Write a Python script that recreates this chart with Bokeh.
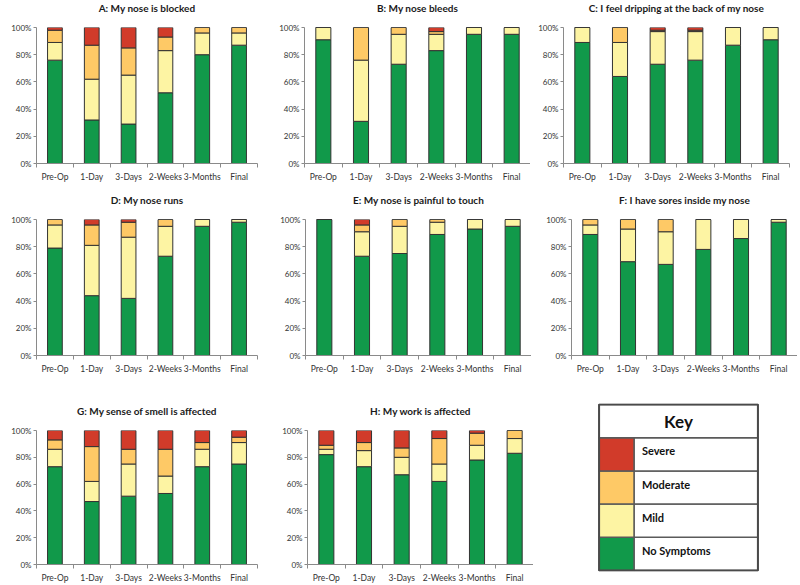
from bokeh.plotting import figure
from bokeh.layouts import column, row
from bokeh.models import FixedTicker, PrintfTickFormatter, ColumnDataSource, Range1d
from bokeh.embed import file_html
from bokeh.resources import INLINE
from bokeh.core.properties import value

categories = ["Pre-Op", "1-Day", "3-Days", "2-Weeks", "3-Months", "Final"]
severity = ["No Symptoms", "Mild", "Moderate", "Severe"]
colors = ["#11994A", "#FDF4A3", "#FEC966", "#D13B2A"]
y_ticks = [0, 20, 40, 60, 80, 100]

# A: My nose is blocked
A_none = [76, 32, 29, 52, 80, 87]
A_mild = [13, 30, 36, 31, 16, 9]
A_moderate = [9, 25, 20, 10, 4, 4]
A_severe = [2, 13, 15, 7, 0, 0]
# B: My nose bleeds
B_none = [91, 31, 73, 83, 95, 95]
B_mild = [9, 45, 22, 12, 5, 5]
B_moderate = [0, 24, 5, 2, 0, 0]
B_severe = [0, 0, 0, 3, 0, 0]
# C: I feel dripping at the back of my nose
C_none = [89, 64, 73, 76, 87, 91]
C_mild = [11, 25, 24, 21, 13, 9]
C_moderate = [0, 11, 1, 1, 0, 0]
C_severe = [0, 0, 2, 2, 0, 0]
# D: My nose runs
D_none = [79, 44, 42, 73, 95, 98]
D_mild = [17, 37, 45, 22, 5, 2]
D_moderate = [4, 15, 11, 5, 0, 0]
D_severe = [0, 4, 2, 0, 0, 0]
# E: My nose is painful to touch
E_none = [100, 73, 75, 89, 93, 95]
E_mild = [0, 18, 20, 9, 7, 5]
E_moderate = [0, 5, 5, 2, 0, 0]
E_severe = [0, 4, 0, 0, 0, 0]
# F: I have sores inside my nose
F_none = [89, 69, 67, 78, 86, 98]
F_mild = [7, 24, 24, 22, 14, 2]
F_moderate = [4, 7, 9, 0, 0, 0]
F_severe = [0, 0, 0, 0, 0, 0]
# G: My sense of smell is affected
G_none = [73, 47, 51, 53, 73, 75]
G_mild = [13, 15, 24, 13, 13, 16]
G_moderate = [7, 26, 11, 20, 5, 4]
G_severe = [7, 12, 14, 14, 9, 5]
# H: My work is affected
H_none = [82, 73, 67, 62, 78, 83]
H_mild = [4, 12, 13, 13, 11, 11]
H_moderate = [3, 6, 7, 19, 9, 6]
H_severe = [11, 9, 13, 6, 2, 0]

FONT = "Lato"
AXIS_COLOR = "#8a8a8a"
TEXT_COLOR = "#333333"


def panel(title, none, mild, moderate, severe, left, right, top, bottom, fh=136, fw=226):
    n = len(categories)
    centers = [i + 0.5 for i in range(n)]
    keys = ["none", "mild", "moderate", "severe"]
    src = ColumnDataSource(dict(x=centers, none=none, mild=mild,
                                moderate=moderate, severe=severe))
    p = figure(frame_width=fw, frame_height=fh,
               x_range=Range1d(0, n), y_range=Range1d(0, 100),
               output_backend="svg", toolbar_location=None,
               min_border_left=left, min_border_right=right,
               min_border_top=top, min_border_bottom=bottom,
               title=title + "\n")
    p.vbar_stack(keys, x="x", width=0.4, source=src,
                 fill_color=colors, line_color="#333333", line_width=1)
    p.title.align = "center"
    p.title.vertical_align = "top"
    p.title.text_font = FONT
    p.title.text_font_size = "10px"
    p.title.text_font_style = "bold"
    p.title.text_color = "#1a1a1a"
    p.title.standoff = 0
    p.outline_line_color = None
    p.grid.visible = False
    # x axis
    xa = p.xaxis[0]
    xa.ticker = FixedTicker(ticks=centers, minor_ticks=list(range(n + 1)))
    xa.major_label_overrides = {c: lab for c, lab in zip(centers, categories)}
    xa.major_tick_line_color = None
    xa.minor_tick_line_color = AXIS_COLOR
    xa.minor_tick_out = 4
    xa.minor_tick_in = 0
    xa.axis_line_color = AXIS_COLOR
    xa.major_label_text_font = FONT
    xa.major_label_text_font_size = "8.5px"
    xa.major_label_text_color = TEXT_COLOR
    xa.major_label_standoff = 2
    # y axis
    ya = p.yaxis[0]
    ya.ticker = FixedTicker(ticks=y_ticks)
    ya.formatter = PrintfTickFormatter(format="%d%%")
    ya.axis_line_color = AXIS_COLOR
    ya.major_tick_line_color = AXIS_COLOR
    ya.major_tick_out = 3
    ya.major_tick_in = 0
    ya.minor_tick_line_color = None
    ya.major_label_text_font = FONT
    ya.major_label_text_font_size = "8px"
    ya.major_label_text_color = TEXT_COLOR
    ya.major_label_standoff = 2
    return p


pA = panel("A: My nose is blocked", A_none, A_mild, A_moderate, A_severe, 36, 10, 27, 29, fw=221)
pB = panel("B: My nose bleeds", B_none, B_mild, B_moderate, B_severe, 37, 0, 27, 29)
pC = panel("C: I feel dripping at the back of my nose", C_none, C_mild, C_moderate, C_severe, 33, 5, 27, 29)

pD = panel("D: My nose runs", D_none, D_mild, D_moderate, D_severe, 36, 10, 27, 48, fw=221)
pE = panel("E: My nose is painful to touch", E_none, E_mild, E_moderate, E_severe, 38, 0, 27, 48)
pF = panel("F: I have sores inside my nose", F_none, F_mild, F_moderate, F_severe, 40, 0, 27, 48)

pG = panel("G: My sense of smell is affected", G_none, G_mild, G_moderate, G_severe, 36, 10, 27, 16, fh=134, fw=221)
pH = panel("H: My work is affected", H_none, H_mild, H_moderate, H_severe, 40, 0, 27, 16, fh=134)

# Key
nk = len(severity)
kp = figure(frame_width=162, frame_height=168,
            x_range=Range1d(-0.01, 1.01), y_range=Range1d(-0.03, nk + 1.03),
            output_backend="svg", toolbar_location=None,
            min_border_left=64, min_border_right=20, min_border_top=0,
            min_border_bottom=9)
kp.axis.visible = False
kp.grid.visible = False
kp.outline_line_color = None
rows_b = list(range(nk))
rows_t = [b + 1 for b in rows_b]
kp.quad(left=0.22, right=1, bottom=rows_b, top=rows_t,
        fill_color="white", line_color="#5a5a5a", line_width=1.5)
kp.quad(left=0, right=0.22, bottom=rows_b, top=rows_t,
        fill_color=colors, line_color="#5a5a5a", line_width=1.5)
kp.quad(left=0, right=1, bottom=nk, top=nk + 1,
        fill_color="white", line_color="#5a5a5a", line_width=1.5)
kp.quad(left=0, right=1, bottom=0, top=nk + 1,
        fill_color=None, line_color="#4a4a4a", line_width=2)
kp.text(x=[0.5], y=[nk + 0.5], text=["Key"], text_align="center",
        text_baseline="middle", text_font=value(FONT), text_font_style="bold",
        text_font_size="17px", text_color="#111111")
kp.text(x=[0.27] * nk, y=[b + 0.6 for b in rows_b], text=severity,
        text_align="left", text_baseline="middle", text_font=value(FONT),
        text_font_style="bold", text_font_size="11px", text_color="#111111")

layout = column(row(pA, pB, pC), row(pD, pE, pF), row(row(pG, pH), column(kp)))

with open("out.html", "w") as f:
    f.write(file_html(layout, INLINE))
